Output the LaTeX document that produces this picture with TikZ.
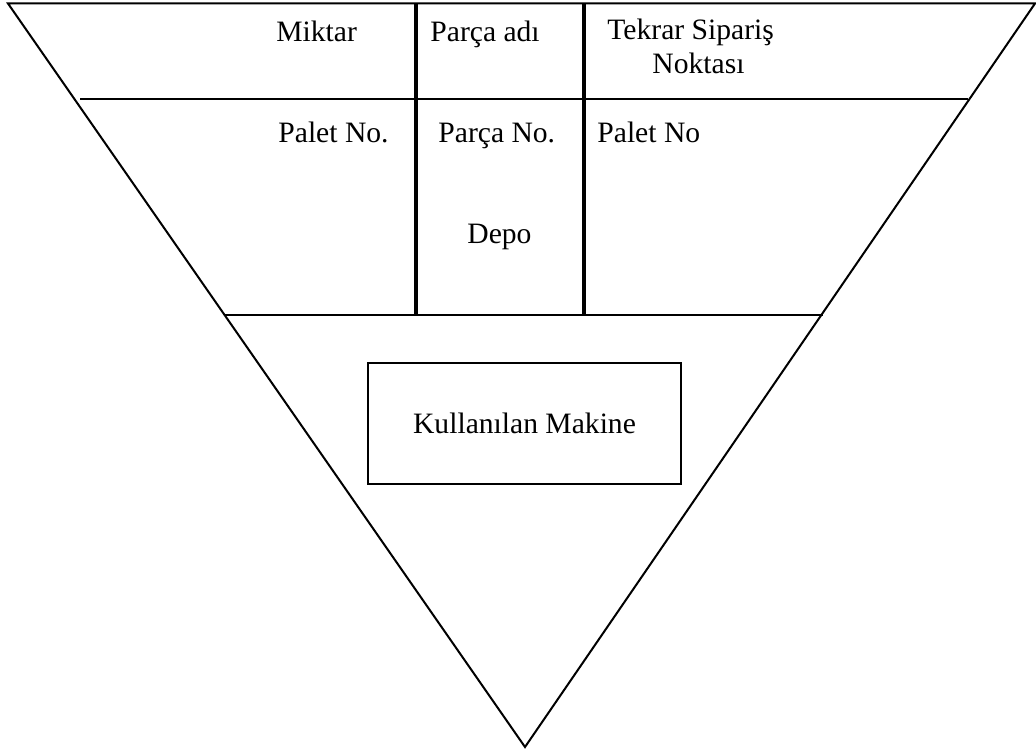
\documentclass[tikz,border=0pt]{standalone}
\usepackage{fontspec}
\setmainfont{Liberation Serif}
\begin{document}
\begin{tikzpicture}[x=0.5pt,y=-0.5pt,
  thinline/.style={line width=1pt,black},
  thickline/.style={line width=1.6pt,black},
  label/.style={anchor=base west,inner sep=0pt,font=\fontsize{14.8}{17}\selectfont},
  machine/.style={draw,line width=1pt,minimum width=156.5pt,minimum height=60.5pt,inner sep=0pt,font=\fontsize{14.8}{17}\selectfont}]
\useasboundingbox (0,0) rectangle (1036,753);
% outer inverted triangle
\coordinate (tl) at (8,3.5);
\coordinate (tr) at (1035,3.5);
\coordinate (apex) at (525,747);
\draw[thinline,line join=miter] (tl) -- (tr) -- (apex) -- cycle;
% horizontal dividers
\coordinate (h1l) at (80,99);
\coordinate (h1r) at (968,99);
\coordinate (h2l) at (225,315);
\coordinate (h2r) at (823,315);
\draw[thinline] (h1l) -- (h1r);
\draw[thinline] (h2l) -- (h2r);
% vertical dividers
\coordinate (v1t) at (416,3.5);
\coordinate (v1b) at (416,315);
\coordinate (v2t) at (584,3.5);
\coordinate (v2b) at (584,315);
\draw[thickline] (v1t) -- (v1b);
\draw[thickline] (v2t) -- (v2b);
% field labels
\node[label] (miktar) at (276,42) {Miktar};
\node[label] (parcaadi) at (430,42) {Parça adı};
\node[label] (tekrar) at (607,40) {Tekrar Sipariş};
\node[label] (noktasi) at (652,74) {Noktası};
\node[label] (paletl) at (278,143) {Palet No.};
\node[label] (parcano) at (438,143) {Parça No.};
\node[label] (paletr) at (597,143) {Palet No};
\node[label] (depo) at (467,244) {Depo};
% machine box
\node[machine] (makine) at (524.5,423.5) {Kullanılan Makine};
\end{tikzpicture}
\end{document}
